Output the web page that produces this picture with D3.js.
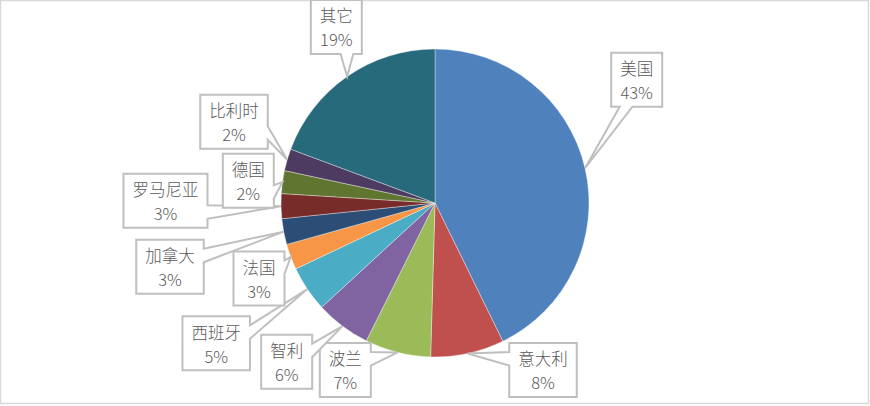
<!DOCTYPE html>
<html>
<head>
<meta charset="utf-8">
<script src="https://cdn.jsdelivr.net/npm/d3@7/dist/d3.min.js"></script>
<style>
  html, body { margin: 0; padding: 0; background: #fff; }
  svg { display: block; }
</style>
</head>
<body>
<div id="chart"></div>
<script>
// share by country, clockwise from 12 o'clock
var countries = ['美国', '意大利', '波兰', '智利', '西班牙', '法国', '加拿大', '罗马尼亚', '德国', '比利时', '其它'];
var shares = [42.7, 7.7, 6.9, 5.8, 4.8, 2.7, 2.7, 2.6, 2.4, 2.3, 19.3];
var colors = ['#4F81BD', '#C0504D', '#9BBB59', '#8064A2', '#4BACC6', '#F79646',
              '#2C4D75', '#772C2A', '#5F7530', '#4D3B62', '#276A7C'];

// where each callout box sits (box centre)
var boxCenters = [
  [636.7, 79.7], [543, 370], [345.3, 370], [286.7, 361.7], [216.2, 343.3],
  [259, 278.5], [170, 266.7], [165.5, 200.8], [248.3, 180.7], [234, 121.7], [336.3, 27]
];

var width = 870, height = 406;
var cx = 435, cy = 203, radius = 154;
var boxH = 54;

var svg = d3.select('#chart').append('svg')
  .attr('width', width)
  .attr('height', height);

svg.append('rect')
  .attr('x', 0.5).attr('y', 0.5)
  .attr('width', width - 2).attr('height', height - 3)
  .attr('fill', '#fff')
  .attr('stroke', '#d9d9d9')
  .attr('stroke-width', 1.5);

var total = d3.sum(shares);
var pie = d3.pie().sort(null).value(function(d) { return d; });
var arcs = pie(shares);
var arc = d3.arc().innerRadius(0).outerRadius(radius);
var edge = d3.arc().innerRadius(radius).outerRadius(radius);

var g = svg.append('g').attr('transform', 'translate(' + cx + ',' + cy + ')');

g.selectAll('path.slice')
  .data(arcs)
  .enter().append('path')
  .attr('class', 'slice')
  .attr('d', arc)
  .attr('fill', function(d, i) { return colors[i]; })
  .attr('stroke', '#ffffff')
  .attr('stroke-opacity', 0.6)
  .attr('stroke-width', 0.6);

// excel style wedge callout
function calloutPath(l, t, w, h, tx, ty) {
  var r = l + w, b = t + h;
  var dx = tx - (l + w / 2), dy = ty - (t + h / 2);
  var x1 = l + w * (dx > 0 ? 7 : 2) / 12, x2 = l + w * (dx > 0 ? 10 : 5) / 12;
  var y1 = t + h * (dy > 0 ? 7 : 2) / 12, y2 = t + h * (dy > 0 ? 10 : 5) / 12;
  var vert = Math.abs(dy) / h > Math.abs(dx) / w;
  var p = d3.path();
  p.moveTo(l, t);
  if (vert && dy < 0) { p.lineTo(x1, t); p.lineTo(tx, ty); p.lineTo(x2, t); }
  p.lineTo(r, t);
  if (!vert && dx > 0) { p.lineTo(r, y1); p.lineTo(tx, ty); p.lineTo(r, y2); }
  p.lineTo(r, b);
  if (vert && dy > 0) { p.lineTo(x2, b); p.lineTo(tx, ty); p.lineTo(x1, b); }
  p.lineTo(l, b);
  if (!vert && dx < 0) { p.lineTo(l, y2); p.lineTo(tx, ty); p.lineTo(l, y1); }
  p.closePath();
  return p.toString();
}

var labels = svg.append('g').attr('class', 'labels');

arcs.forEach(function(d, i) {
  var tip = edge.centroid(d);
  var tx = tip[0] + cx, ty = tip[1] + cy;
  var pct = Math.round(shares[i] / total * 100) + '%';

  var lg = labels.append('g');
  var box = lg.append('path');
  var t1 = lg.append('text')
    .attr('x', boxCenters[i][0])
    .attr('y', boxCenters[i][1] - 10.5)
    .attr('dy', '0.35em')
    .text(countries[i]);
  var t2 = lg.append('text')
    .attr('x', boxCenters[i][0])
    .attr('y', boxCenters[i][1] + 13.5)
    .attr('dy', '0.35em')
    .text(pct);
  lg.selectAll('text')
    .attr('text-anchor', 'middle')
    .attr('font-family', '"Noto Sans CJK SC", "Noto Sans", sans-serif')
    .attr('font-size', 16.5)
    .attr('font-weight', 300)
    .attr('fill', '#595959');

  var w = Math.max(t1.node().getComputedTextLength(), t2.node().getComputedTextLength()) + 18;
  var l = boxCenters[i][0] - w / 2, t = boxCenters[i][1] - boxH / 2;
  box.attr('d', calloutPath(l, t, w, boxH, tx, ty))
    .attr('fill', '#fff')
    .attr('stroke', '#bfbfbf')
    .attr('stroke-width', 2)
    .attr('stroke-linejoin', 'miter');
});
</script>
</body>
</html>
